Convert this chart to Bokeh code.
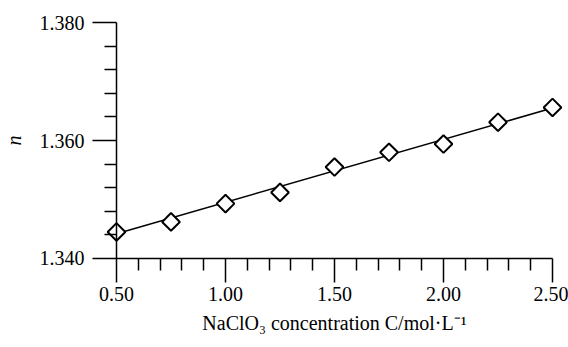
import numpy as np
from bokeh.plotting import figure
from bokeh.models import Range1d, FixedTicker, PrintfTickFormatter
from bokeh.embed import file_html
from bokeh.resources import INLINE

# data
conc = [0.50, 0.75, 1.00, 1.25, 1.50, 1.75, 2.00, 2.25, 2.50]
n_vals = [1.3445, 1.3462, 1.3493, 1.3512, 1.3555, 1.3580, 1.3594, 1.3631, 1.3656]
fit_x = [0.50, 2.50]
fit_y = [1.3442, 1.3655]
x_major = [0.5, 1.0, 1.5, 2.0, 2.5]
x_minor = [0.6, 0.7, 0.8, 0.9, 1.1, 1.2, 1.3, 1.4, 1.6, 1.7, 1.8, 1.9, 2.1, 2.2, 2.3, 2.4]
y_major = [1.340, 1.360, 1.380]
y_minor = [1.344, 1.348, 1.352, 1.356, 1.364, 1.368, 1.372, 1.376]

FONT = "Liberation Serif"
FS = "20px"

p = figure(width=568, height=347, output_backend="svg", toolbar_location=None,
           x_range=Range1d(-0.03211, 2.57339), y_range=Range1d(1.324915, 1.383729),
           min_border=0, min_border_left=0, min_border_right=0,
           min_border_top=0, min_border_bottom=0)
p.outline_line_color = None
p.xgrid.visible = False
p.ygrid.visible = False
p.background_fill_color = "white"
p.border_fill_color = "white"

p.line(fit_x, fit_y, line_color="black", line_width=1.5)
p.scatter(conc, n_vals, marker="square", angle=np.pi / 4, size=12.5,
          fill_color="white", line_color="black", line_width=2)

for ax in (p.xaxis[0], p.yaxis[0]):
    ax.axis_line_color = "black"
    ax.axis_line_width = 1.5
    ax.major_tick_line_color = "black"
    ax.major_tick_line_width = 1.5
    ax.minor_tick_line_color = "black"
    ax.minor_tick_line_width = 1.5
    ax.major_tick_in = 0
    ax.major_tick_out = 24
    ax.minor_tick_in = 0
    ax.minor_tick_out = 12
    ax.major_label_text_font = FONT
    ax.major_label_text_font_size = FS
    ax.major_label_text_color = "black"
    ax.axis_label_text_font = FONT
    ax.axis_label_text_font_size = FS
    ax.axis_label_text_color = "black"

xa = p.xaxis[0]
xa.fixed_location = 1.34
xa.bounds = (0.5, 2.5)
xa.ticker = FixedTicker(ticks=x_major, minor_ticks=x_minor)
xa.formatter = PrintfTickFormatter(format="%.2f")
xa.major_label_standoff = 5
xa.axis_label = "NaClO\u2083 concentration C/mol\u00b7L\u207b\u00b9"
xa.axis_label_text_font_style = "normal"
xa.axis_label_standoff = 7

ya = p.yaxis[0]
ya.fixed_location = 0.5
ya.bounds = (1.34, 1.38)
ya.ticker = FixedTicker(ticks=y_major, minor_ticks=y_minor)
ya.formatter = PrintfTickFormatter(format="%.3f")
ya.major_label_standoff = 8
ya.axis_label = "n"
ya.axis_label_text_font_style = "italic"
ya.axis_label_standoff = 12

open("out.html", "w").write(file_html(p, INLINE))
